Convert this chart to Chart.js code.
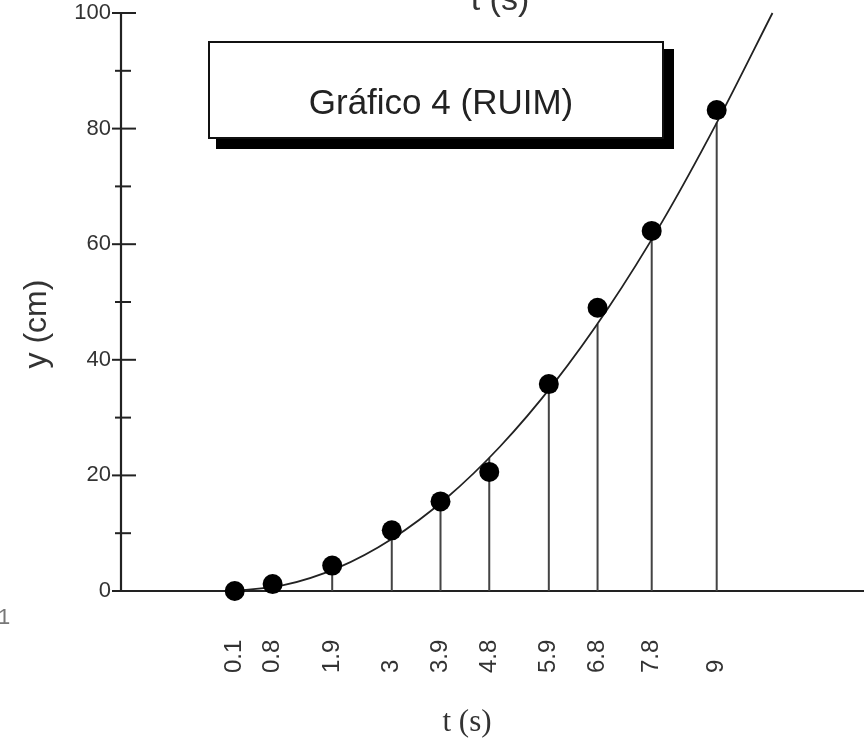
<!DOCTYPE html>
<html><head><meta charset="utf-8">
<script src="https://cdn.jsdelivr.net/npm/chart.js@4"></script>
<style>html,body{margin:0;padding:0;background:#fff;overflow:hidden;} #wrap{width:864px;height:742px;position:relative;} canvas{display:block;}</style>
</head><body><div id="wrap"><canvas id="c"></canvas></div>
<script>
// ---- data ----
const tValues   = [0.1, 0.8, 1.9, 3, 3.9, 4.8, 5.9, 6.8, 7.8, 9];
const yValues   = [0, 1.2, 4.4, 10.5, 15.5, 20.6, 35.8, 49, 62.3, 83.2];
const curveAtT  = [0, 0.6, 3.6, 9, 15.2, 23, 34.8, 46.2, 60.8, 81];
const curveT    = [0.1, 1, 2, 3, 4, 5, 6, 7, 8, 9, 10.03];
const curveY    = [0, 1, 4, 9, 16, 25, 36, 49, 64, 81, 100];
const xTickLabels = ['0.1', '0.8', '1.9', '3', '3.9', '4.8', '5.9', '6.8', '7.8', '9'];
const yMajorTicks = [0, 20, 40, 60, 80, 100];
const yMinorTicks = [10, 30, 50, 70, 90];
const titleText = 'Gráfico 4 (RUIM)';
const xTitle = 't (s)';
const yTitle = 'y (cm)';

const pointData = tValues.map((t, i) => ({x: t, y: yValues[i]}));
const curveData = curveT.map((t, i) => ({x: t, y: curveY[i]}));
const dropData = [];
tValues.forEach((t, i) => {
  dropData.push({x: t, y: 0}, {x: t, y: curveAtT[i]}, {x: t, y: null});
});

const decor = {
  id: 'decor',
  beforeDatasetsDraw(chart) {
    const ctx = chart.ctx, xs = chart.scales.x, ys = chart.scales.y;
    const ca = chart.chartArea;
    ctx.save();
    ctx.strokeStyle = '#222';
    ctx.lineWidth = 2.2;
    const ax = xs.getPixelForValue(xs.min);
    const y0 = ys.getPixelForValue(0), y100 = ys.getPixelForValue(100);
    ctx.beginPath();
    ctx.moveTo(ax, y100); ctx.lineTo(ax, y0);
    ctx.moveTo(ax, y0); ctx.lineTo(ca.right, y0);
    ctx.stroke();
    // ticks
    ctx.lineWidth = 2;
    yMajorTicks.forEach(v => {
      const py = ys.getPixelForValue(v);
      ctx.beginPath(); ctx.moveTo(ax - 9, py); ctx.lineTo(ax + 15, py); ctx.stroke();
    });
    yMinorTicks.forEach(v => {
      const py = ys.getPixelForValue(v);
      ctx.beginPath(); ctx.moveTo(ax - 6, py); ctx.lineTo(ax + 10, py); ctx.stroke();
    });
    ctx.restore();
  },
  afterDraw(chart) {
    const ctx = chart.ctx, xs = chart.scales.x, ys = chart.scales.y;
    const ax = xs.getPixelForValue(xs.min);
    ctx.save();
    ctx.fillStyle = '#333';
    // y tick labels
    ctx.font = '22px "Liberation Sans", Arial, sans-serif';
    ctx.textAlign = 'right'; ctx.textBaseline = 'middle';
    yMajorTicks.forEach(v => ctx.fillText(String(v), ax - 10, ys.getPixelForValue(v)));
    // x tick labels (rotated, anchored at bottom)
    ctx.font = '24px "Liberation Sans", Arial, sans-serif';
    tValues.forEach((t, i) => {
      ctx.save();
      ctx.translate(xs.getPixelForValue(t), 673);
      ctx.rotate(-Math.PI / 2);
      ctx.textAlign = 'left'; ctx.textBaseline = 'middle';
      ctx.fillText(xTickLabels[i], 0, 0);
      ctx.restore();
    });
    // axis titles
    ctx.font = '31px "Liberation Serif", "Times New Roman", serif';
    ctx.textAlign = 'center'; ctx.textBaseline = 'alphabetic';
    ctx.fillText(xTitle, 467, 731);
    ctx.font = '34px "Liberation Sans", Arial, sans-serif';
    ctx.fillText(xTitle, 500, 10);
    ctx.save();
    ctx.font = '32px "Liberation Sans", Arial, sans-serif';
    ctx.translate(46, 324); ctx.rotate(-Math.PI / 2);
    ctx.fillText(yTitle, 0, 0);
    ctx.restore();
    // stray "1"
    ctx.fillStyle = '#777';
    ctx.font = '22px "Liberation Sans", Arial, sans-serif';
    ctx.textAlign = 'left';
    ctx.fillText('1', -2, 624);
    // title box with shadow
    ctx.fillStyle = '#000';
    ctx.fillRect(216, 49, 458, 100);
    ctx.fillStyle = '#fff';
    ctx.fillRect(209, 42, 454, 96);
    ctx.strokeStyle = '#111'; ctx.lineWidth = 2;
    ctx.strokeRect(209, 42, 454, 96);
    ctx.fillStyle = '#222';
    ctx.font = '35px "Liberation Sans", Arial, sans-serif';
    ctx.textAlign = 'center';
    ctx.fillText(titleText, 441, 114);
    ctx.restore();
  }
};

new Chart(document.getElementById('c'), {
  type: 'scatter',
  data: {
    datasets: [
      { type: 'scatter', data: pointData, backgroundColor: '#000', borderWidth: 0,
        pointRadius: 10, pointHoverRadius: 10, clip: false, order: 0 },
      { type: 'line', data: curveData, borderColor: '#222', borderWidth: 1.8,
        pointRadius: 0, fill: false, cubicInterpolationMode: 'monotone', clip: false, order: 1 },
      { type: 'line', data: dropData, borderColor: '#444', borderWidth: 2,
        pointRadius: 0, fill: false, spanGaps: false, tension: 0, clip: false, order: 2 }
    ]
  },
  options: {
    responsive: true, maintainAspectRatio: false, animation: false,
    layout: { autoPadding: false, padding: { left: 121, top: 13, right: 0, bottom: 151 } },
    plugins: { legend: { display: false }, tooltip: { enabled: false }, title: { display: false } },
    scales: {
      x: { type: 'linear', min: -2.0, max: 11.72, display: false, offset: false },
      y: { type: 'linear', min: 0, max: 100, display: false }
    }
  },
  plugins: [decor]
});
</script>
</body></html>
